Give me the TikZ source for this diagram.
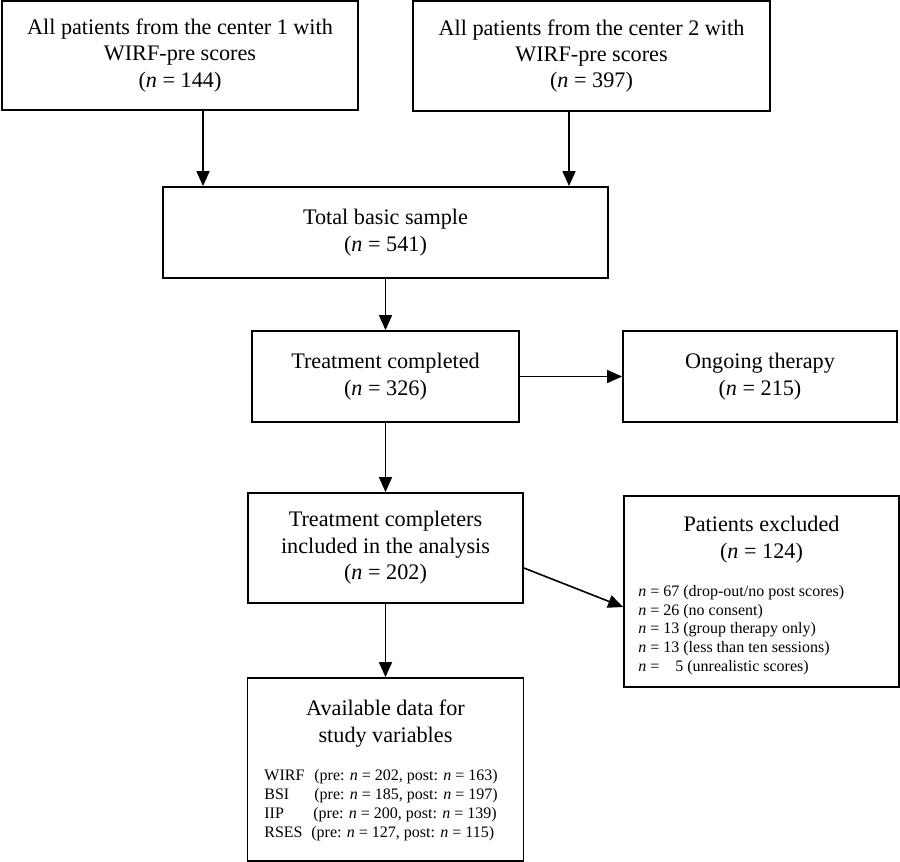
\documentclass[tikz,border=0pt]{standalone}
\usepackage{fontspec}
\setmainfont{Liberation Serif}
\usepackage{tikz}
\usetikzlibrary{arrows.meta}
\tikzset{
  box/.style={draw, rectangle, line width=0.9pt, align=center, inner sep=0pt, font=\fontsize{11.1}{13.2}\selectfont},
  boxhead/.style={align=center, inner sep=0pt, font=\fontsize{11.1}{13.2}\selectfont},
  boxlist/.style={anchor=west, align=left, inner sep=0pt, font=\fontsize{8}{9.4}\selectfont},
  flow/.style={-{Triangle[length=7.5pt,width=6.5pt]}, line width=0.8pt}
}
\newcommand{\nn}{\textit{n}}
\begin{document}
\begin{tikzpicture}[x=0.5pt,y=-0.5pt]
\useasboundingbox (0,0) rectangle (900,862);

\node[box, minimum width=178pt, minimum height=54.5pt] (center1) at (180,55.5) {All patients from the center 1 with\\WIRF-pre scores\\(\nn{} = 144)};
\node[box, minimum width=178.5pt, minimum height=55pt] (center2) at (591.5,56) {All patients from the center 2 with\\WIRF-pre scores\\(\nn{} = 397)};
\node[box, minimum width=222.5pt, minimum height=45.5pt] (total) at (385.5,232.5) {Total basic sample\\(\nn{} = 541)};
\node[box, minimum width=133.5pt, minimum height=45.5pt] (treated) at (385.5,376.5) {Treatment completed\\(\nn{} = 326)};
\node[box, minimum width=137pt, minimum height=45.5pt] (ongoing) at (760,376.5) {Ongoing therapy\\(\nn{} = 215)};
\node[box, minimum width=137.5pt, minimum height=55pt] (completers) at (385.5,548) {Treatment completers\\included in the analysis\\(\nn{} = 202)};

\node[box, minimum width=137.5pt, minimum height=95.5pt] (excluded) at (761.5,591.5) {};
\node[boxhead] (exclhead) at (761.5,539.5) {Patients excluded\\(\nn{} = 124)};
\node[boxlist] (excllist) at (638,630) {\nn{} = 67 (drop-out/no post scores)\\
\nn{} = 26 (no consent)\\
\nn{} = 13 (group therapy only)\\
\nn{} = 13 (less than ten sessions)\\
\nn{} = \phantom{1}\ 5 (unrealistic scores)};

\node[box, minimum width=138pt, minimum height=91.5pt] (available) at (385.5,769.5) {};
\node[boxhead] (availhead) at (385.5,723.5) {Available data for\\study variables};
\node[boxlist] (availlist) at (264,805) {\makebox[25pt][l]{WIRF}(pre: \nn{} = 202, post: \nn{} = 163)\\
\makebox[25pt][l]{BSI}(pre: \nn{} = 185, post: \nn{} = 197)\\
\makebox[24.5pt][l]{IIP}(pre: \nn{} = 200, post: \nn{} = 139)\\
\makebox[23.5pt][l]{RSES}(pre: \nn{} = 127, post: \nn{} = 115)};

\draw[flow] ([xshift=11.5pt]center1.south) -- ([xshift=11.5pt]center1.south |- total.north);
\draw[flow] ([xshift=-11.25pt]center2.south) -- ([xshift=-11.25pt]center2.south |- total.north);
\draw[flow] (total) -- (treated);
\draw[flow] (treated) -- (ongoing);
\draw[flow] (treated) -- (completers);
\draw[flow] (completers) -- (available);
\draw[flow] ([yshift=-10pt]completers.east) -- ([yshift=-7.75pt]excluded.west);
\end{tikzpicture}
\end{document}
